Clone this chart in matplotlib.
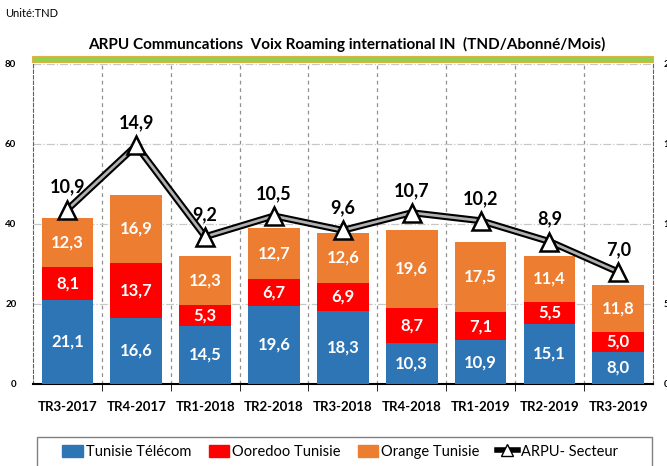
import matplotlib.pyplot as plt
import numpy as np
from matplotlib.lines import Line2D
from matplotlib.patches import Patch, Rectangle

plt.rcParams['font.family'] = ['Lato', 'DejaVu Sans']

quarters = ['TR3-2017', 'TR4-2017', 'TR1-2018', 'TR2-2018', 'TR3-2018',
            'TR4-2018', 'TR1-2019', 'TR2-2019', 'TR3-2019']
tt = [21.1, 16.6, 14.5, 19.6, 18.3, 10.3, 10.9, 15.1, 8.0]
ooredoo = [8.1, 13.7, 5.3, 6.7, 6.9, 8.7, 7.1, 5.5, 5.0]
orange = [12.3, 16.9, 12.3, 12.7, 12.6, 19.6, 17.5, 11.4, 11.8]
arpu = [10.9, 14.9, 9.2, 10.5, 9.6, 10.7, 10.2, 8.9, 7.0]

c_tt = '#2E75B6'
c_oo = '#FF0000'
c_or = '#ED7D31'

def fr(v):
    return f"{v:.1f}".replace('.', ',')

fig = plt.figure(figsize=(6.67, 4.66), dpi=100)
ax = fig.add_axes([0.0495, 0.176, 0.929, 0.687])
x = np.arange(len(quarters))
w = 0.75

b1 = ax.bar(x, tt, w, color=c_tt, zorder=3)
b2 = ax.bar(x, ooredoo, w, bottom=tt, color=c_oo, zorder=3)
bot3 = np.array(tt) + np.array(ooredoo)
b3 = ax.bar(x, orange, w, bottom=bot3, color=c_or, zorder=3)

for vals, bots in [(tt, np.zeros(len(x))), (ooredoo, np.array(tt)), (orange, bot3)]:
    for xi, v, b in zip(x, vals, bots):
        ax.text(xi, b + v / 2, fr(v), ha='center', va='center', color='white',
                fontsize=12, fontweight='bold', zorder=5)

ax.set_xlim(-0.5, len(x) - 0.5)
ax.set_ylim(0, 80)
ax.set_yticks([0, 20, 40, 60, 80])
ax.set_xticks(x)
ax.set_xticklabels(quarters, fontsize=9.5, fontweight='bold')
ax.set_xticks(np.arange(0.5, len(x) - 0.5, 1), minor=True)
ax.tick_params(axis='x', which='major', length=0, pad=12)
ax.tick_params(axis='x', which='minor', length=5, color='black', direction='out')
ax.tick_params(axis='y', length=0, labelsize=7, pad=12)
for t in ax.get_yticklabels():
    t.set_fontweight('bold')
ax.grid(axis='y', linestyle='-.', color='#c8c8c8', linewidth=0.9, zorder=0)
ax.grid(axis='x', which='minor', linestyle=(0, (3, 3)), color='#909090', linewidth=0.9, zorder=0)
ax.spines['top'].set_visible(False)
for s in ['left', 'right']:
    ax.spines[s].set_linestyle((0, (3, 2)))
    ax.spines[s].set_color('#606060')
ax.spines['bottom'].set_linewidth(1.5)

ax2 = ax.twinx()
ax2.set_ylim(0, 20)
ax2.set_yticks([0, 5, 10, 15, 20])
ax2.tick_params(axis='y', length=0, labelsize=7, pad=8)
for t in ax2.get_yticklabels():
    t.set_fontweight('bold')
for s in ax2.spines.values():
    s.set_visible(False)
ax2.plot(x, arpu, color='black', linewidth=5, zorder=4)
ax2.plot(x, arpu, color='#b0b0b0', linewidth=2, zorder=5)
ax2.plot(x, arpu, linestyle='none', marker='^', markersize=13, markerfacecolor='white',
         markeredgecolor='black', markeredgewidth=1.8, zorder=6)
for xi, v in zip(x, arpu):
    ax2.annotate(fr(v), (xi, v), xytext=(0, 10), textcoords='offset points',
                 ha='center', va='bottom', fontsize=13, fontweight='bold', color='black')

fig.add_artist(Rectangle((0.048, 0.866), 0.931, 0.013, transform=fig.transFigure,
                         facecolor='#92D050', edgecolor='#E0B040', linewidth=0.8))
fig.text(0.52, 0.905, 'ARPU Communcations  Voix Roaming international IN  (TND/Abonné/Mois)',
         ha='center', va='center', fontsize=11, fontweight='bold')
fig.text(0.008, 0.972, 'Unité:TND', ha='left', va='center', fontsize=8)

# legend box (bottom edge runs off the figure, as in the original)
fig.add_artist(Rectangle((37 / 667, -0.05), 615 / 667, 0.05 + 29 / 466,
                         transform=fig.transFigure, facecolor='none',
                         edgecolor='#808080', linewidth=1.0, zorder=0.5))
handles = [Patch(color=c_tt, label='Tunisie Télécom'),
           Patch(color=c_oo, label='Ooredoo Tunisie'),
           Patch(color=c_or, label='Orange Tunisie'),
           Line2D([0], [0], color='black', linewidth=4, marker='^', markersize=8,
                  markerfacecolor='white', markeredgecolor='black', label='ARPU- Secteur')]
leg = fig.legend(handles=handles, loc='center', ncol=4,
                 bbox_to_anchor=(340 / 667, 1 - 452 / 466), fontsize=10.5,
                 frameon=False, handlelength=1.4, handleheight=0.9,
                 handletextpad=0.2, columnspacing=1.2)

plt.savefig('out.png', dpi=100)
plt.close()
